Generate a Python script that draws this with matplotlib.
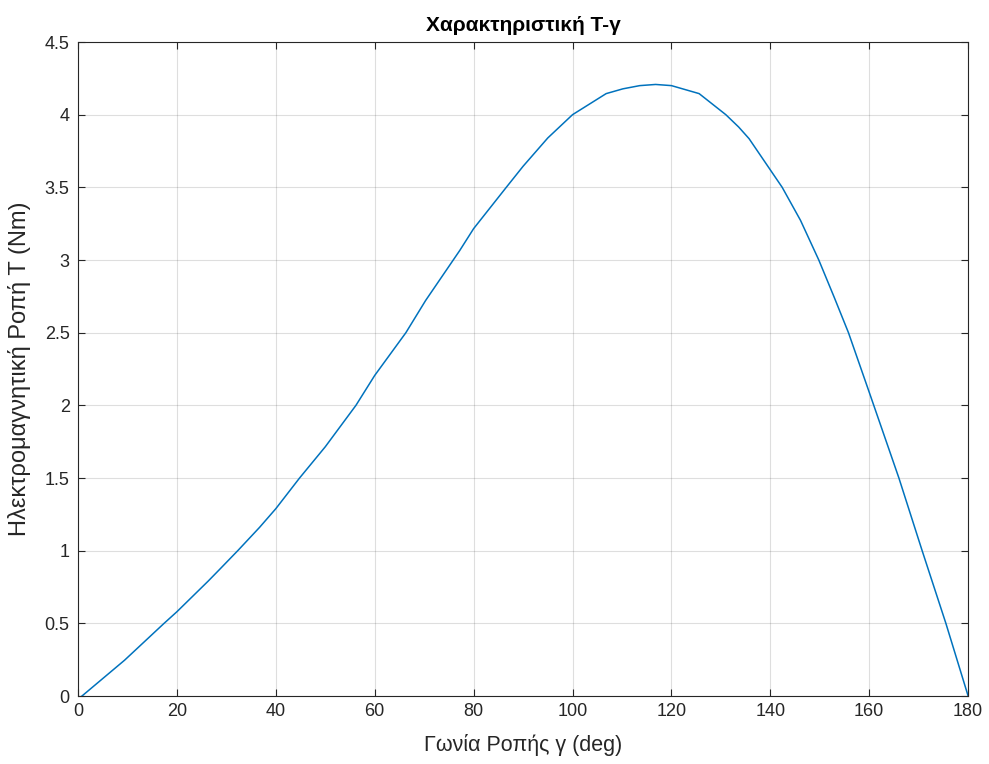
import matplotlib
matplotlib.use("Agg")
import matplotlib.pyplot as plt
from matplotlib.ticker import FuncFormatter

gamma_deg = [0.8, 9.4, 17.4, 20, 26.3, 28.6, 32.3, 36.7, 40, 44.8, 50, 56.2, 60, 66.3,
             70.3, 77.2, 80, 86.6, 90, 95, 100, 106.8, 110.2, 113.6, 116.8, 120, 125.6,
             131, 133.6, 135.7, 140, 142.4, 146.1, 149.8, 152.9, 155.8, 160,
             166.0, 170.7, 175.5, 180]
torque = [0, 0.246, 0.5, 0.58, 0.79, 0.87, 1.0, 1.16, 1.289, 1.5, 1.715, 2.0, 2.206, 2.5,
          2.722, 3.066, 3.216, 3.5, 3.645, 3.84, 4.0, 4.145, 4.178, 4.20, 4.208, 4.20,
          4.145, 4.0, 3.915, 3.835, 3.62, 3.5, 3.273, 3.0, 2.745, 2.5, 2.09,
          1.5, 1.0, 0.5, 0]
x_ticks = [0, 20, 40, 60, 80, 100, 120, 140, 160, 180]
y_ticks = [0, 0.5, 1, 1.5, 2, 2.5, 3, 3.5, 4, 4.5]

plt.rcParams['font.family'] = ['Liberation Sans', 'DejaVu Sans']
dark = '#262626'

fig = plt.figure(figsize=(9.89, 7.64), dpi=100)
ax = fig.add_axes([0.0789, 0.089, 0.9, 0.856])
ax.plot(gamma_deg, torque, color='#0072BD', linewidth=1.1)
ax.set_xlim(0, 180)
ax.set_ylim(0, 4.5)
ax.set_xticks(x_ticks)
ax.set_yticks(y_ticks)
ax.yaxis.set_major_formatter(FuncFormatter(lambda v, p: f"{v:g}"))
ax.grid(True, color=dark, alpha=0.15, linewidth=0.8)
ax.tick_params(direction='in', top=True, right=True, length=5, width=0.8,
               colors=dark, labelsize=13, pad=5)
ax.tick_params(axis='y', pad=6)
for s in ax.spines.values():
    s.set_color(dark)
    s.set_linewidth(0.8)
ax.set_xlabel('Γωνία Ροπής γ (deg)', fontsize=15.5, color=dark, labelpad=10)
ax.set_ylabel('Ηλεκτρομαγνητική Ροπή T (Nm)', fontsize=17, color=dark, labelpad=10)
ax.set_title('Χαρακτηριστική T-γ', fontsize=15, fontweight='bold', color='black', pad=8)
fig.savefig('out.png', dpi=100)
